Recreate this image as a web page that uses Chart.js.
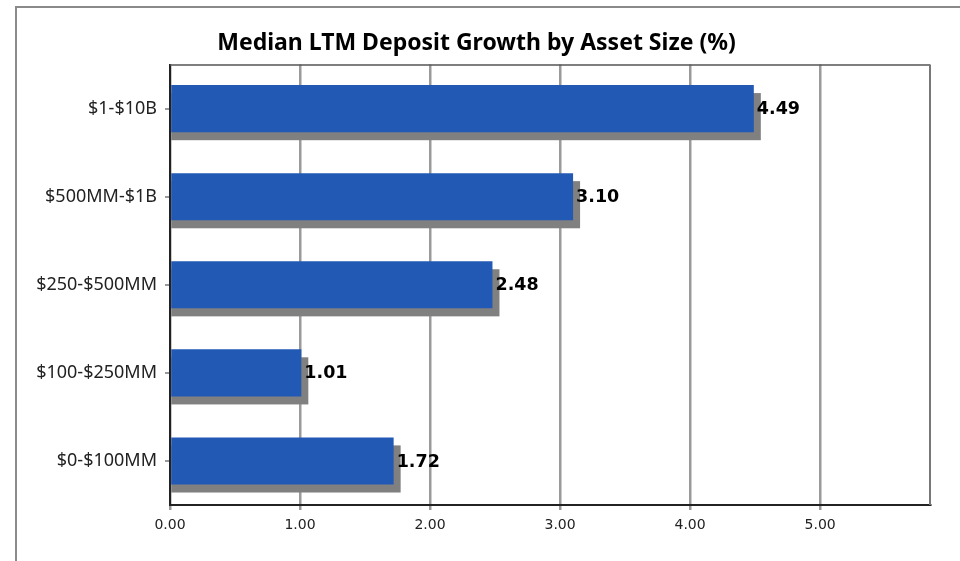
<!DOCTYPE html>
<html>
<head>
<meta charset="utf-8">
<script src="https://cdn.jsdelivr.net/npm/chart.js@4/dist/chart.umd.min.js"></script>
<style>
  html, body { margin: 0; padding: 0; background: #fff; }
  #wrap { width: 960px; height: 561px; }
</style>
</head>
<body>
<div id="wrap"><canvas id="chart" width="960" height="561"></canvas></div>
<script>
// data
var categories = ['$1-$10B', '$500MM-$1B', '$250-$500MM', '$100-$250MM', '$0-$100MM'];
var growth = [4.49, 3.10, 2.48, 1.01, 1.72];
var tickValues = [0, 1, 2, 3, 4, 5];

// outer frame + top/right border of plot area
var framePlugin = {
    id: 'frame',
    beforeDraw: function (chart) {
        var ctx = chart.ctx;
        ctx.save();
        ctx.fillStyle = '#fff';
        ctx.fillRect(0, 0, chart.width, chart.height);
        ctx.strokeStyle = '#8a8a8a';
        ctx.lineWidth = 2;
        ctx.strokeRect(16, 7, chart.width + 20, chart.height + 20);
        ctx.restore();
    },
    afterDraw: function (chart) {
        var a = chart.chartArea, ctx = chart.ctx;
        ctx.save();
        ctx.strokeStyle = '#555';
        ctx.lineWidth = 1.5;
        ctx.beginPath();
        ctx.moveTo(a.left, a.top + 0.5);
        ctx.lineTo(a.right, a.top + 0.5);
        ctx.stroke();
        ctx.strokeStyle = '#777';
        ctx.lineWidth = 2;
        ctx.beginPath();
        ctx.moveTo(a.right, a.top);
        ctx.lineTo(a.right, a.bottom);
        ctx.stroke();
        ctx.restore();
    }
};

// gray offset "shadow" under each bar, plus value labels
var barShadow = {
    id: 'barShadow',
    beforeDatasetDraw: function (chart) {
        var ctx = chart.ctx;
        var meta = chart.getDatasetMeta(0);
        ctx.save();
        ctx.fillStyle = '#808080';
        meta.data.forEach(function (bar) {
            var p = bar.getProps(['x', 'y', 'base', 'height'], true);
            ctx.fillRect(p.base, p.y - p.height / 2 + 8, p.x - p.base + 7, p.height);
        });
        ctx.restore();
    },
    afterDatasetsDraw: function (chart) {
        var ctx = chart.ctx;
        var meta = chart.getDatasetMeta(0);
        ctx.save();
        ctx.font = 'bold 17.5px "DejaVu Sans"';
        ctx.fillStyle = '#000';
        ctx.textAlign = 'left';
        ctx.textBaseline = 'middle';
        meta.data.forEach(function (bar, i) {
            ctx.fillText(growth[i].toFixed(2), bar.x + 3, bar.y + 1);
        });
        ctx.restore();
    }
};

var ctx = document.getElementById('chart').getContext('2d');
new Chart(ctx, {
    type: 'bar',
    data: {
        labels: categories,
        datasets: [{
            data: growth,
            backgroundColor: '#2259b5',
            barPercentage: 0.535,
            categoryPercentage: 1
        }]
    },
    options: {
        indexAxis: 'y',
        responsive: false,
        animation: false,
        layout: { padding: { left: 23, right: 30, top: 0, bottom: 0 } },
        plugins: {
            legend: { display: false },
            tooltip: { enabled: false },
            title: {
                display: true,
                text: 'Median LTM Deposit Growth by Asset Size (%)',
                color: '#000',
                font: { family: '"Noto Sans"', size: 23, weight: 'bold' },
                padding: { top: 30, bottom: 7 }
            }
        },
        scales: {
            x: {
                min: 0,
                max: 5.845,
                afterBuildTicks: function (scale) {
                    scale.ticks = tickValues.map(function (v) { return { value: v }; });
                },
                afterFit: function (scale) { scale.height = 56; },
                grid: { color: '#9a9a9a', lineWidth: 2.5, tickLength: 5, tickColor: '#9a9a9a' },
                border: { color: '#222', width: 2 },
                ticks: {
                    color: '#222',
                    padding: 7,
                    font: { family: '"DejaVu Sans"', size: 14 },
                    callback: function (v) { return Number(v).toFixed(2); }
                }
            },
            y: {
                afterFit: function (scale) { scale.width = 147; },
                grid: { offset: false, drawOnChartArea: false, tickLength: 5, tickColor: '#999', lineWidth: 2 },
                border: { color: '#222', width: 2 },
                ticks: {
                    color: '#222',
                    padding: 8,
                    font: { family: '"Noto Sans"', size: 18 }
                }
            }
        }
    },
    plugins: [framePlugin, barShadow]
});
</script>
</body>
</html>
